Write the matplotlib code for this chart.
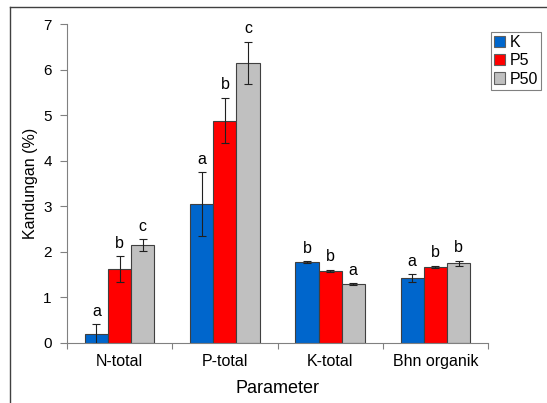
import numpy as np
import matplotlib.pyplot as plt
from matplotlib.lines import Line2D

plt.rcParams['font.family'] = ['Liberation Sans', 'DejaVu Sans']

params = ['N-total', 'P-total', 'K-total', 'Bhn organik']
series = ['K', 'P5', 'P50']
vals_k = [0.19, 3.05, 1.78, 1.42]
vals_p5 = [1.62, 4.88, 1.58, 1.67]
vals_p50 = [2.15, 6.15, 1.29, 1.75]
err_k = [0.22, 0.70, 0.02, 0.09]
err_p5 = [0.28, 0.50, 0.03, 0.03]
err_p50 = [0.13, 0.46, 0.02, 0.06]
lbl_k = ['a', 'a', 'b', 'a']
lbl_p5 = ['b', 'b', 'b', 'b']
lbl_p50 = ['c', 'c', 'a', 'b']

colors = ['#0066CC', '#FF0000', '#C0C0C0']

fig = plt.figure(figsize=(5.47, 4.03), dpi=100)
ax = fig.add_axes([67/547, 1 - 343/403, (488 - 67)/547, (343 - 24)/403])

x = np.arange(len(params)) + 0.5
w = 0.22
allv = [vals_k, vals_p5, vals_p50]
alle = [err_k, err_p5, err_p50]
alll = [lbl_k, lbl_p5, lbl_p50]
for i in range(3):
    xs = x + (i - 1) * w
    ax.bar(xs, allv[i], w, color=colors[i], edgecolor='#404040', linewidth=0.8,
           label=series[i], zorder=2)
    ax.errorbar(xs, allv[i], yerr=alle[i], fmt='none', ecolor='#202020',
                elinewidth=0.8, capsize=3, capthick=0.8, zorder=3)
    for xx, v, e, t in zip(xs, allv[i], alle[i], alll[i]):
        ax.text(xx, v + e + 0.12, t, ha='center', va='bottom', fontsize=11.5)

ax.set_xlim(0, 4)
ax.set_ylim(0, 7)
ax.set_xticks([0, 1, 2, 3, 4])
ax.set_xticklabels([])
ax.set_xticks(x, minor=True)
ax.set_xticklabels(params, minor=True, fontsize=11.5)
ax.tick_params(axis='x', which='minor', length=0, pad=8)
ax.tick_params(axis='x', which='major', length=4, color='#808080')
ax.set_yticks(range(8))
ax.tick_params(axis='y', labelsize=11, length=5, color='#808080', pad=6)
for s in ['top', 'right']:
    ax.spines[s].set_visible(False)
for s in ['left', 'bottom']:
    ax.spines[s].set_color('#808080')
ax.set_ylabel('Kandungan (%)', fontsize=11.5, labelpad=4)
ax.set_xlabel('Parameter', fontsize=13, labelpad=8)

leg = fig.legend(loc='upper right', bbox_to_anchor=(541/547, 1 - 32/403),
                 fontsize=11.5, handlelength=0.7, handleheight=0.7,
                 handletextpad=0.25, borderpad=0.2, labelspacing=0.2,
                 fancybox=False, edgecolor='#606060', borderaxespad=0)
leg.get_frame().set_linewidth(0.8)
for h in leg.legend_handles:
    h.set_edgecolor('#606060')

# outer frame lines (left and top)
fig.add_artist(Line2D([10/547, 10/547], [0, 1 - 7/403], transform=fig.transFigure,
                      color='#404040', linewidth=1))
fig.add_artist(Line2D([10/547, 1], [1 - 7/403, 1 - 7/403], transform=fig.transFigure,
                      color='#404040', linewidth=1))

fig.savefig('out.png', dpi=100)
